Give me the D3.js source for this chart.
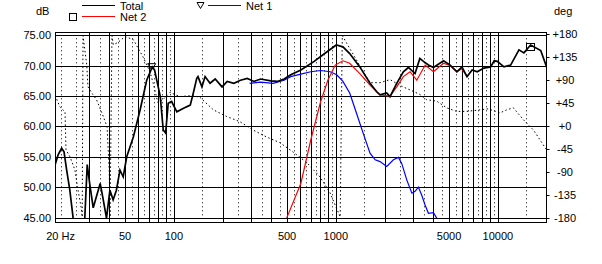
<!DOCTYPE html>
<html>
<head>
<meta charset="utf-8">
<script src="https://cdn.jsdelivr.net/npm/d3@7/dist/d3.min.js"></script>
<style>
body { margin: 0; background: #fff; }
svg text { font-family: Arial, "Liberation Sans", sans-serif; font-size: 11px; fill: #000; }
</style>
</head>
<body>
<div id="chart"></div>
<script>
// Total magnitude (Hz, dB)
let totalFreq = [18.5, 19.3, 20.3, 21.0, 21.8, 22.8, 23.9, 24.7, 27.0, 28.2, 29.2, 30.3, 31.8, 35.1, 36.4, 38.4, 40.3, 42.2, 44.2, 46.5, 48.7, 51.2, 56.3, 61.9, 68.0, 73.6, 76.0, 82.5, 86.0, 89.0, 92.3, 96.9, 104.4, 114.8, 126.3, 131.9, 138.5, 141.0, 149.1, 155.9, 167.3, 180, 198.4, 213.5, 234.7, 258.1, 283.9, 312.2, 343.4, 396.4, 435.9, 479.4, 527.1, 608.5, 734.8, 853.7, 1006, 1106, 1218, 1406, 1626, 1788, 1874, 2061, 2160, 2376, 2611, 2805, 3084, 3300, 3473, 3728, 4004, 4623, 5081, 5588, 6003, 6250, 6454, 6940, 7462, 8206, 9024, 9500, 9924, 10914, 12000, 13500, 14490, 15930, 18400, 20000];
let totalDb = [53.7, 55.3, 56.4, 55.8, 52.8, 49.5, 44.9, 43.0, 43.0, 44.9, 53.7, 50.4, 46.6, 50.6, 48.4, 44.9, 49.5, 47.9, 49.5, 52.8, 51.7, 55.0, 58.3, 62.7, 67.6, 69.8, 69.3, 64.9, 59.4, 58.9, 63.8, 64.1, 62.4, 63.0, 63.5, 65.5, 67.9, 68.2, 66.5, 68.2, 67.1, 67.8, 66.5, 67.4, 67.1, 67.6, 67.9, 67.4, 67.8, 67.5, 67.4, 67.8, 68.5, 69.3, 70.7, 72.0, 73.4, 73.1, 72.0, 69.8, 67.1, 65.7, 65.2, 65.5, 64.9, 67.1, 69.0, 69.7, 68.7, 71.2, 70.7, 70.1, 69.7, 70.8, 70.1, 69.0, 69.8, 68.9, 68.2, 69.3, 69.0, 69.6, 69.8, 70.8, 70.7, 69.8, 70.1, 72.6, 72.1, 73.4, 72.5, 69.8];

// Net 1 magnitude
let net1Freq = [294, 343, 410, 479, 527, 608, 701, 806, 922, 1012, 1106, 1218, 1340, 1474, 1626, 1749, 1874, 2061, 2267, 2435, 2551, 2740, 2947, 3084, 3232, 3388, 3550, 3728, 4004, 4194];
let net1Db = [67.1, 67.3, 67.1, 67.6, 68.2, 68.6, 69.0, 69.2, 69.0, 68.5, 67.4, 65.5, 62.2, 58.9, 55.6, 54.5, 54.2, 53.4, 54.5, 54.9, 53.9, 51.2, 49.0, 49.3, 50.0, 48.7, 47.1, 45.7, 45.8, 44.9];

// Net 2 magnitude
let net2Freq = [497, 608, 701, 806, 893, 991, 1106, 1218, 1406, 1626, 1788, 1874, 2160, 2376, 2611, 2870, 3160, 3560, 4004, 4623, 5081, 5588, 6003, 6454];
let net2Db = [44.9, 50.6, 57.8, 64.1, 67.6, 70.1, 70.8, 70.4, 68.7, 66.8, 65.7, 65.2, 65.0, 66.5, 68.2, 69.0, 67.6, 70.1, 69.0, 70.4, 70.0, 69.0, 69.5, 68.2];

// Phase (deg), wrapped at +/-180
let phaseFreq = [18.5, 19.8, 21.3, 21.6, 22.9, 24.5, 25.6, 26.8, 27.2, 27.5, 28.2, 29.0, 29.5, 31.6, 33.3, 36.4, 38.7, 39.9, 40.4, 41.5, 42.3, 44.9, 50, 56.2, 64.4, 71.1, 74.4, 79.8, 85.6, 94.6, 109, 131.8, 145.5, 175.5, 212, 255.7, 307, 374, 451, 543, 663, 799, 922, 1019, 1064, 1096, 1228, 1419, 1626, 1874, 2160, 2551, 2870, 3308, 3628, 4194, 4834, 5572, 6424, 7760, 8730, 10300, 11340, 12460, 14360, 16560, 20000];
let phaseDeg = [59, 37, 27, -47, -61, -86, -125, -160, -178, 176, 149, 119, 76, 61, 51, 21, -2, -86, -178, 176, 158, 162, 174, 168, 135, 106, 84, 45, 51, 65, 57, 59, 55, 31, 18, 8, -8, -22, -33, -51, -72, -100, -131, -164, -178, 176, 149, 115, 84, 84, 90, 77, 70, 61, 51, 48, 35, 28, 28, 31, 33, 25, 31, 35, 12, -8, -47];

// markers
let net1Marker = { f: 73, db: 70 };
let net2Marker = { f: 15700, db: 73.1 };

let dbTicks = [75, 70, 65, 60, 55, 50, 45];
let degTicks = [180, 135, 90, 45, 0, -45, -90, -135, -180];
let freqLabels = [20, 50, 100, 500, 1000, 5000, 10000];

let width = 602;
let height = 264;

let plotLeft = 55.5, plotRight = 546.5, plotTop = 32.5, plotBottom = 222.5;

let svg = d3.select('#chart')
    .append('svg')
        .attr('width', width)
        .attr('height', height);

let x = d3.scaleLog().domain([20, 20000]).range([60.6, 546.6]);
let y = d3.scaleLinear().domain([45, 75]).range([217.5, 35.3]);
let yDeg = d3.scaleLinear().domain([-180, 180]).range([218, 33.5]);

// grid
let solidF = [];
let dottedF = [20];
[10, 100, 1000].forEach(function (dec) {
    for (let m = 1; m <= 9; m++) {
        if (dec * m > 20) solidF.push(dec * m);
        if (dec * (m + 0.5) > 20) dottedF.push(dec * (m + 0.5));
    }
});
solidF.push(10000);
dottedF.push(15000);

svg.selectAll('.vdot')
    .data(dottedF)
    .enter().append('line')
        .attr('x1', function (d) { return Math.round(x(d)) + 0.5; })
        .attr('x2', function (d) { return Math.round(x(d)) + 0.5; })
        .attr('y1', y(75) + 3)
        .attr('y2', y(45) - 1)
        .attr('stroke', '#000')
        .attr('stroke-dasharray', '1,3');

svg.selectAll('.vsolid')
    .data(solidF)
    .enter().append('line')
        .attr('x1', function (d) { return Math.round(x(d)) + 0.5; })
        .attr('x2', function (d) { return Math.round(x(d)) + 0.5; })
        .attr('y1', plotTop)
        .attr('y2', plotBottom)
        .attr('stroke', '#000');

svg.selectAll('.hgrid')
    .data(dbTicks)
    .enter().append('line')
        .attr('x1', plotLeft)
        .attr('x2', plotRight)
        .attr('y1', function (d) { return Math.round(y(d)) + 0.5; })
        .attr('y2', function (d) { return Math.round(y(d)) + 0.5; })
        .attr('stroke', '#000');

// frame
svg.append('rect')
    .attr('x', plotLeft)
    .attr('y', plotTop)
    .attr('width', plotRight - plotLeft)
    .attr('height', plotBottom - plotTop)
    .attr('fill', 'none')
    .attr('stroke', '#000');

// axis labels
svg.selectAll('.dbLabel')
    .data(dbTicks)
    .enter().append('text')
        .attr('x', 51)
        .attr('y', function (d) { return y(d) + 4; })
        .attr('text-anchor', 'end')
        .text(function (d) { return d.toFixed(2); });

svg.selectAll('.degLabel')
    .data(degTicks)
    .enter().append('text')
        .attr('x', 565)
        .attr('y', function (d) { return yDeg(d) + 4; })
        .attr('text-anchor', 'middle')
        .text(function (d) { return d >= 0 ? '+' + d : '' + d; });

svg.selectAll('.degTick')
    .data(degTicks)
    .enter().append('line')
        .attr('x1', plotRight)
        .attr('x2', plotRight + 3)
        .attr('y1', function (d) { return Math.round(yDeg(d)) + 0.5; })
        .attr('y2', function (d) { return Math.round(yDeg(d)) + 0.5; })
        .attr('stroke', '#000');

svg.selectAll('.fLabel')
    .data(freqLabels)
    .enter().append('text')
        .attr('x', function (d) { return x(d); })
        .attr('y', 240)
        .attr('text-anchor', 'middle')
        .text(function (d) { return d === 20 ? '20 Hz' : d; });

svg.append('text').attr('x', 36).attr('y', 15).text('dB');
svg.append('text').attr('x', 554).attr('y', 15).text('deg');

// clip for curves
svg.append('clipPath').attr('id', 'plot')
    .append('rect')
        .attr('x', plotLeft)
        .attr('y', plotTop)
        .attr('width', plotRight - plotLeft)
        .attr('height', 219 - plotTop);

let magLine = d3.line()
    .x(function (d) { return x(d[0]); })
    .y(function (d) { return y(d[1]); });

let phaseLine = d3.line()
    .x(function (d) { return x(d[0]); })
    .y(function (d) { return yDeg(d[1]); });

let g = svg.append('g').attr('clip-path', 'url(#plot)');

// phase
g.append('path')
    .datum(d3.zip(phaseFreq, phaseDeg))
    .attr('d', phaseLine)
    .attr('fill', 'none')
    .attr('stroke', '#000')
    .attr('stroke-width', 1)
    .attr('stroke-dasharray', '1.5,2.5');

g.append('path')
    .datum(d3.zip(net1Freq, net1Db))
    .attr('d', magLine)
    .attr('fill', 'none')
    .attr('stroke', '#0000ff')
    .attr('stroke-width', 1.2);

g.append('path')
    .datum(d3.zip(net2Freq, net2Db))
    .attr('d', magLine)
    .attr('fill', 'none')
    .attr('stroke', '#ff0000')
    .attr('stroke-width', 1.2);

g.append('path')
    .datum(d3.zip(totalFreq, totalDb))
    .attr('d', magLine)
    .attr('fill', 'none')
    .attr('stroke', '#000')
    .attr('stroke-width', 1.7);

// markers
let mx = x(net1Marker.f), my = y(net1Marker.db);
svg.append('path')
    .attr('d', 'M' + (mx - 4) + ',' + (my - 2) + 'L' + (mx + 4) + ',' + (my - 2) + 'L' + mx + ',' + (my + 4) + 'Z')
    .attr('fill', 'none')
    .attr('stroke', '#000');

svg.append('rect')
    .attr('x', Math.round(x(net2Marker.f)) - 3.5)
    .attr('y', Math.round(y(net2Marker.db)) - 3.5)
    .attr('width', 8)
    .attr('height', 7)
    .attr('fill', 'none')
    .attr('stroke', '#000');

// legend
let legend = [
    { name: 'Total', color: '#000', x: 82, y: 5.5 },
    { name: 'Net 2', color: '#ff0000', x: 82, y: 16.5 },
    { name: 'Net 1', color: '#0000ff', x: 208, y: 5.5 }
];

legend.forEach(function (d) {
    svg.append('line')
        .attr('x1', d.x).attr('x2', d.x + 33)
        .attr('y1', d.y).attr('y2', d.y)
        .attr('stroke', d.color);
    svg.append('text')
        .attr('x', d.x + 38)
        .attr('y', d.y + 4.5)
        .text(d.name);
});

svg.append('rect')
    .attr('x', 69.5).attr('y', 13.5)
    .attr('width', 7).attr('height', 7)
    .attr('fill', 'none').attr('stroke', '#000');

svg.append('path')
    .attr('d', 'M197,2.5L204,2.5L200.5,8.5Z')
    .attr('fill', 'none')
    .attr('stroke', '#000');
</script>
</body>
</html>
